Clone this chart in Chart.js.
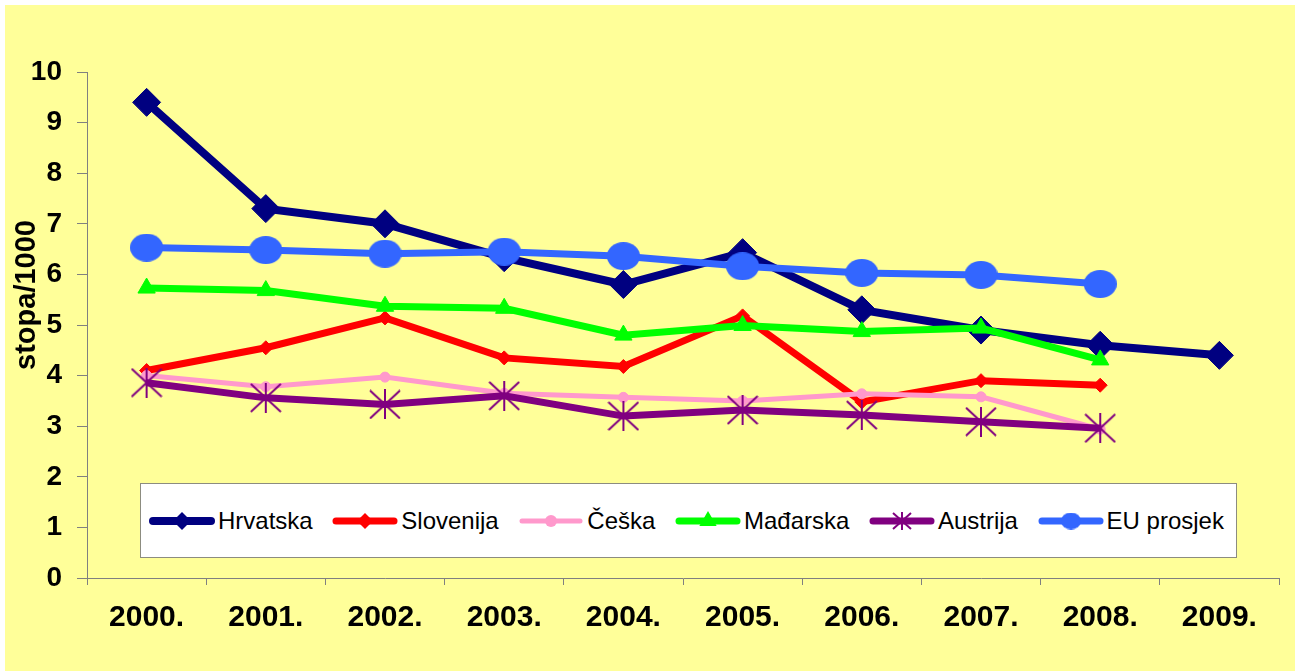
<!DOCTYPE html>
<html>
<head>
<meta charset="utf-8">
<script src="https://cdn.jsdelivr.net/npm/chart.js@4.4.1/dist/chart.umd.min.js"></script>
<style>
    html, body { margin: 0; padding: 0; background: #fff; }
    #wrap { position: relative; width: 1295px; height: 671px; overflow: hidden; }
    #bg { position: absolute; left: 5px; top: 5px; right: 0; bottom: 0; background: #FFFF99; }
    #chart { position: absolute; left: 0; top: 0; }
    #legend {
        position: absolute; left: 140px; top: 483px; width: 1097px; height: 75px;
        box-sizing: border-box; background: #fff; border: 1px solid #8c8c80;
        display: flex; align-items: center; justify-content: space-between;
        padding: 0 12px 0 7px;
        font: 24px "Liberation Sans", Arial, sans-serif; color: #000;
    }
    .item { display: flex; align-items: center; }
    .item canvas { display: block; margin-right: 2px; }
</style>
</head>
<body>
<div id="wrap">
    <div id="bg"></div>
    <canvas id="chart" width="1295" height="671"></canvas>
    <div id="legend"></div>
</div>
<script>
// podaci (očitano s grafikona)
const years = ['2000.', '2001.', '2002.', '2003.', '2004.', '2005.', '2006.', '2007.', '2008.', '2009.'];
const hrvatska  = [9.4, 7.3, 7.0, 6.33, 5.8, 6.43, 5.3, 4.9, 4.6, 4.4];
const slovenija = [4.1, 4.55, 5.14, 4.35, 4.18, 5.18, 3.48, 3.9, 3.81, null];
const ceska     = [4.0, 3.78, 3.97, 3.65, 3.57, 3.5, 3.64, 3.58, 2.94, null];
const madarska  = [5.73, 5.68, 5.37, 5.33, 4.8, 4.99, 4.87, 4.94, 4.31, null];
const austrija  = [3.86, 3.56, 3.43, 3.6, 3.2, 3.32, 3.22, 3.09, 2.96, null];
const euProsjek = [6.53, 6.48, 6.41, 6.45, 6.36, 6.16, 6.03, 5.99, 5.81, null];
const seriesNames = ['Hrvatska', 'Slovenija', 'Češka', 'Mađarska', 'Austrija', 'EU prosjek'];
const yMin = 0, yMax = 10, yStep = 1;
const yTitle = 'stopa/1000';

function starImage(w, h, lw, color) {
    const c = document.createElement('canvas');
    c.width = w; c.height = h;
    const g = c.getContext('2d');
    g.strokeStyle = color; g.lineWidth = lw;
    g.beginPath();
    g.moveTo(w / 2, 0); g.lineTo(w / 2, h);
    g.moveTo(1, 1); g.lineTo(w - 1, h - 1);
    g.moveTo(w - 1, 1); g.lineTo(1, h - 1);
    g.stroke();
    return c;
}

function ellipseImage(w, h, color) {
    const c = document.createElement('canvas');
    c.width = w; c.height = h;
    const g = c.getContext('2d');
    g.fillStyle = color;
    g.beginPath();
    g.ellipse(w / 2, h / 2, w / 2, h / 2, 0, 0, Math.PI * 2);
    g.fill();
    return c;
}

const styles = [
    { color: '#000080', width: 8, point: 'rectRot', radius: 14, legPoint: 'rectRot', legRadius: 9 },
    { color: '#FF0000', width: 7, point: 'rectRot', radius: 7, legPoint: 'rectRot', legRadius: 8 },
    { color: '#FF99CC', width: 5, point: 'circle', radius: 5, legPoint: 'circle', legRadius: 6 },
    { color: '#00FF00', width: 7, point: 'triangle', radius: 10, legPoint: 'triangle', legRadius: 10 },
    { color: '#800080', width: 7, point: starImage(32, 30, 2, '#800080'), radius: 15, legPoint: starImage(20, 18, 2, '#800080'), legRadius: 9 },
    { color: '#3366FF', width: 7, point: ellipseImage(33, 28, '#3366FF'), radius: 14, legPoint: ellipseImage(20, 17, '#3366FF'), legRadius: 9 }
];
const seriesData = [hrvatska, slovenija, ceska, madarska, austrija, euProsjek];

const datasets = seriesData.map((data, i) => ({
    label: seriesNames[i],
    data: data,
    borderColor: styles[i].color,
    backgroundColor: styles[i].color,
    borderWidth: styles[i].width,
    pointStyle: styles[i].point,
    pointRadius: styles[i].radius,
    pointHoverRadius: styles[i].radius,
    pointBorderWidth: 1,
    pointBackgroundColor: styles[i].color,
    pointBorderColor: styles[i].color,
    tension: 0,
    order: seriesData.length - i,
    clip: false
}));

const yTitlePlugin = {
    id: 'yTitle',
    afterDraw(chart) {
        const ctx = chart.ctx;
        ctx.save();
        ctx.translate(35, 295);
        ctx.rotate(-Math.PI / 2);
        ctx.font = 'bold 29px "Liberation Sans", Arial, sans-serif';
        ctx.fillStyle = '#000';
        ctx.textAlign = 'center';
        ctx.textBaseline = 'alphabetic';
        ctx.fillText(yTitle, 0, 0);
        ctx.restore();
    }
};

const font = (size) => ({ family: '"Liberation Sans", Arial, sans-serif', size: size, weight: 'bold' });

new Chart(document.getElementById('chart'), {
    type: 'line',
    data: { labels: years, datasets: datasets },
    options: {
        responsive: false,
        animation: false,
        events: [],
        layout: { padding: { top: 72, right: 12, left: 0, bottom: 0 } },
        plugins: { legend: { display: false }, tooltip: { enabled: false } },
        scales: {
            x: {
                offset: true,
                grid: { drawOnChartArea: false, drawTicks: true, tickLength: 7, color: '#808080', offset: true },
                border: { display: true, color: '#808080', width: 1 },
                ticks: { font: font(30), color: '#000', padding: 15, maxRotation: 0, autoSkip: false },
                afterFit(scale) { scale.height = 93; }
            },
            y: {
                min: yMin, max: yMax,
                grid: { drawOnChartArea: false, drawTicks: true, tickLength: 10, color: '#808080' },
                border: { display: true, color: '#808080', width: 1 },
                ticks: { stepSize: yStep, font: font(28), color: '#000', padding: 15 },
                afterFit(scale) { scale.width = 87; }
            }
        }
    },
    plugins: [yTitlePlugin]
});

// legenda
const legendEl = document.getElementById('legend');
seriesNames.forEach((name, i) => {
    const item = document.createElement('div');
    item.className = 'item';
    const c = document.createElement('canvas');
    c.width = 68; c.height = 24;
    const g = c.getContext('2d');
    g.strokeStyle = styles[i].color;
    g.lineWidth = styles[i].width;
    g.lineCap = 'round';
    g.beginPath();
    g.moveTo(5, 12); g.lineTo(63, 12);
    g.stroke();
    g.fillStyle = styles[i].color;
    Chart.helpers.drawPoint(g, { pointStyle: styles[i].legPoint, radius: styles[i].legRadius, rotation: 0, borderWidth: 0 }, 34, 12);
    const span = document.createElement('span');
    span.textContent = name;
    item.appendChild(c);
    item.appendChild(span);
    legendEl.appendChild(item);
});
</script>
</body>
</html>
